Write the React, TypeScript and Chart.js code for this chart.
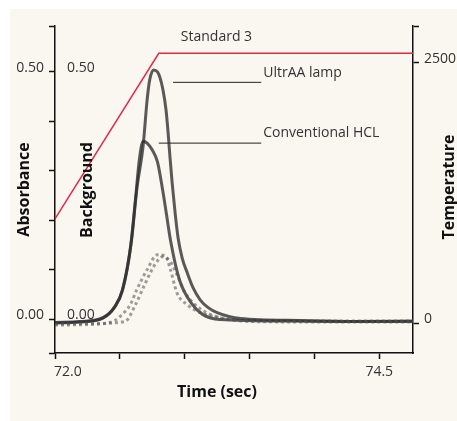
import { useEffect, useRef } from 'react';
import { Chart, registerables } from 'chart.js';

Chart.register(...registerables);

// axis ticks
const timeTicks = [72.0, 72.5, 73.0, 73.5, 74.0, 74.5];
const absTicks = [0, 0.1, 0.2, 0.3, 0.4, 0.5];
const tempTicks = [0, 2500];

// UltrAA lamp absorbance
const ultraTime = [72.0, 72.19, 72.37, 72.46, 72.52, 72.59, 72.63, 72.68, 72.71, 72.73, 72.76, 72.79, 72.81, 72.833, 72.856, 72.872, 72.887, 72.903, 72.926, 72.949, 72.98, 73.019, 73.065, 73.119, 73.181, 73.25, 73.43, 73.89, 74.35, 74.76];
const ultraAbs = [-0.007, -0.005, 0.003, 0.025, 0.059, 0.16, 0.261, 0.352, 0.443, 0.484, 0.504, 0.5, 0.488, 0.463, 0.423, 0.377, 0.326, 0.276, 0.215, 0.164, 0.124, 0.094, 0.063, 0.039, 0.023, 0.013, 0.001, -0.003, -0.005, -0.005];

// Conventional HCL absorbance
const hclTime = [72.0, 72.19, 72.37, 72.46, 72.52, 72.58, 72.62, 72.65, 72.68, 72.71, 72.75, 72.79, 72.83, 72.86, 72.89, 72.96, 73.06, 73.14, 73.27, 73.8, 74.3, 74.76];
const hclAbs = [-0.008, -0.006, 0.002, 0.024, 0.058, 0.14, 0.241, 0.322, 0.36, 0.356, 0.342, 0.318, 0.261, 0.211, 0.16, 0.079, 0.029, 0.009, -0.001, -0.004, -0.005, -0.004];

// background signals (dotted)
const bg1Time = [72.0, 72.35, 72.46, 72.5, 72.58, 72.63, 72.71, 72.79, 72.85, 72.89, 72.94, 73.02, 73.12, 73.27, 73.5, 74.1, 74.76];
const bg1Abs = [-0.012, -0.01, -0.003, 0.005, 0.029, 0.059, 0.1, 0.13, 0.128, 0.1, 0.053, 0.029, 0.013, 0.003, -0.005, -0.006, -0.006];
const bg2Time = [72.0, 72.3, 72.54, 72.62, 72.69, 72.77, 72.83, 72.89, 72.94, 73.0, 73.08, 73.2, 73.35, 74.0, 74.76];
const bg2Abs = [-0.01, -0.009, -0.005, 0.029, 0.069, 0.11, 0.126, 0.116, 0.09, 0.055, 0.029, 0.009, -0.001, -0.004, -0.004];

// furnace temperature program
const tempTime = [72.0, 72.8, 74.76];
const tempValue = [1000, 2590, 2590];

const FONT = '"Open Sans", "Noto Sans", sans-serif';
const pts = (xs: number[], ys: number[]) => xs.map((x, i) => ({ x, y: ys[i] }));

const overlay = {
  id: 'overlay',
  afterDraw(chart: any) {
    const { ctx, scales } = chart;
    const x = scales.x;
    const y = scales.y;
    const t = scales.yTemp;
    ctx.save();
    ctx.fillStyle = '#333';
    ctx.font = `14px ${FONT}`;
    ctx.textBaseline = 'middle';

    // time tick labels
    ctx.textAlign = 'left';
    ctx.fillText('72.0', x.getPixelForValue(72.0) - 1, 372);
    ctx.textAlign = 'center';
    ctx.fillText('74.5', x.getPixelForValue(74.5), 372);

    // background axis labels
    ctx.textAlign = 'left';
    ctx.fillText('0.50', 67, y.getPixelForValue(0.5) - 4);
    ctx.fillText('0.00', 67, y.getPixelForValue(0) - 4);

    // annotations
    ctx.fillText('Standard 3', x.getPixelForValue(72.97), t.getPixelForValue(2746));
    ctx.fillText('UltrAA lamp', x.getPixelForValue(73.605), y.getPixelForValue(0.498));
    ctx.fillText('Conventional HCL', x.getPixelForValue(73.605), y.getPixelForValue(0.377));

    // titles
    ctx.fillStyle = '#111';
    ctx.font = `bold 16px ${FONT}`;
    ctx.textAlign = 'center';
    ctx.fillText('Time (sec)', 217, 392);
    const rotated = (text: string, cx: number, cy: number) => {
      ctx.save();
      ctx.translate(cx, cy);
      ctx.rotate(-Math.PI / 2);
      ctx.fillText(text, 0, 0);
      ctx.restore();
    };
    rotated('Background', 87, 190);
    rotated('Temperature', 449, 187);
    ctx.restore();
  }
};

export default function App() {
  const canvasRef = useRef<HTMLCanvasElement>(null);
  const chartRef = useRef<Chart | null>(null);

  useEffect(() => {
    document.body.style.margin = '0';
    if (!canvasRef.current) return;
    if (chartRef.current) chartRef.current.destroy();

    const curve = {
      borderColor: 'rgba(45,45,45,0.78)',
      borderWidth: 3,
      pointRadius: 0,
      cubicInterpolationMode: 'monotone',
      yAxisID: 'y'
    };
    const dotted = {
      borderColor: 'rgba(80,80,80,0.55)',
      borderWidth: 3,
      borderDash: [3, 3],
      pointRadius: 0,
      cubicInterpolationMode: 'monotone',
      yAxisID: 'y'
    };
    const leader = {
      borderColor: '#222',
      borderWidth: 1,
      pointRadius: 0,
      yAxisID: 'y'
    };

    chartRef.current = new Chart(canvasRef.current, {
      type: 'line',
      data: {
        datasets: [
          { label: 'Temperature', data: pts(tempTime, tempValue), borderColor: '#e0284a', borderWidth: 1.5, pointRadius: 0, tension: 0, yAxisID: 'yTemp' },
          { label: 'Background 1', data: pts(bg1Time, bg1Abs), ...dotted },
          { label: 'Background 2', data: pts(bg2Time, bg2Abs), ...dotted },
          { label: 'Conventional HCL', data: pts(hclTime, hclAbs), ...curve },
          { label: 'UltrAA lamp', data: pts(ultraTime, ultraAbs), ...curve },
          { label: 'UltrAA leader', data: [{ x: 72.91, y: 0.479 }, { x: 73.59, y: 0.479 }], ...leader },
          { label: 'HCL leader', data: [{ x: 72.8, y: 0.356 }, { x: 73.59, y: 0.356 }], ...leader }
        ]
      },
      options: {
        responsive: true,
        maintainAspectRatio: false,
        animation: false,
        layout: { padding: { top: 26, left: 0, right: 0, bottom: 0 } },
        plugins: { legend: { display: false }, tooltip: { enabled: false } },
        font: { family: FONT },
        scales: {
          x: {
            type: 'linear',
            min: 72.0,
            max: 74.76,
            afterFit: (s: any) => { s.height = 68; },
            afterBuildTicks: (s: any) => { s.ticks = timeTicks.map(v => ({ value: v })); },
            ticks: { callback: () => '', font: { family: FONT, size: 14 } },
            grid: { drawOnChartArea: false, tickLength: 6, tickColor: '#111', tickWidth: 1.5 },
            border: { color: '#111', width: 1.5 }
          },
          y: {
            type: 'linear',
            position: 'left',
            min: -0.0687,
            max: 0.593,
            afterFit: (s: any) => { s.width = 55; },
            afterBuildTicks: (s: any) => { s.ticks = [s.min, ...absTicks, s.max].map(v => ({ value: v })); },
            ticks: {
              callback: (v: any) => (v === 0 ? '0.00' : v === 0.5 ? '0.50' : ''),
              color: '#333',
              font: { family: FONT, size: 14 },
              padding: 5,
              labelOffset: -4
            },
            grid: { drawOnChartArea: false, tickLength: 6, tickColor: '#111', tickWidth: 1.5 },
            border: { color: '#111', width: 1.5 },
            title: { display: true, text: 'Absorbance', color: '#111', font: { family: FONT, size: 16, weight: 'bold' }, padding: { top: 15, bottom: 0 } }
          },
          yTemp: {
            type: 'linear',
            position: 'right',
            min: -288,
            max: 2852,
            afterFit: (s: any) => { s.width = 44; },
            afterBuildTicks: (s: any) => { s.ticks = [...tempTicks, s.max].map(v => ({ value: v })); },
            ticks: {
              callback: (v: any) => (v === 0 ? '0' : v === 2500 ? '2500' : ''),
              color: '#333',
              font: { family: FONT, size: 14 },
              padding: 5,
              labelOffset: -4
            },
            grid: { drawOnChartArea: false, tickLength: 6, tickColor: '#111', tickWidth: 1.5 },
            border: { color: '#111', width: 1.5 }
          }
        }
      },
      plugins: [overlay]
    } as any);

    return () => {
      if (chartRef.current) {
        chartRef.current.destroy();
        chartRef.current = null;
      }
    };
  }, []);

  return (
    <div style={{ position: 'absolute', left: 0, top: 0, width: 457, height: 421, background: '#fff' }}>
      <div style={{ position: 'absolute', left: 10, top: 9, right: 0, bottom: 0, background: '#f9f7f0' }} />
      <div style={{ position: 'absolute', left: 0, top: 0, width: 457, height: 421 }}>
        <canvas ref={canvasRef} role="img" aria-label="Absorbance and temperature versus time for UltrAA lamp and conventional HCL" />
      </div>
    </div>
  );
}
